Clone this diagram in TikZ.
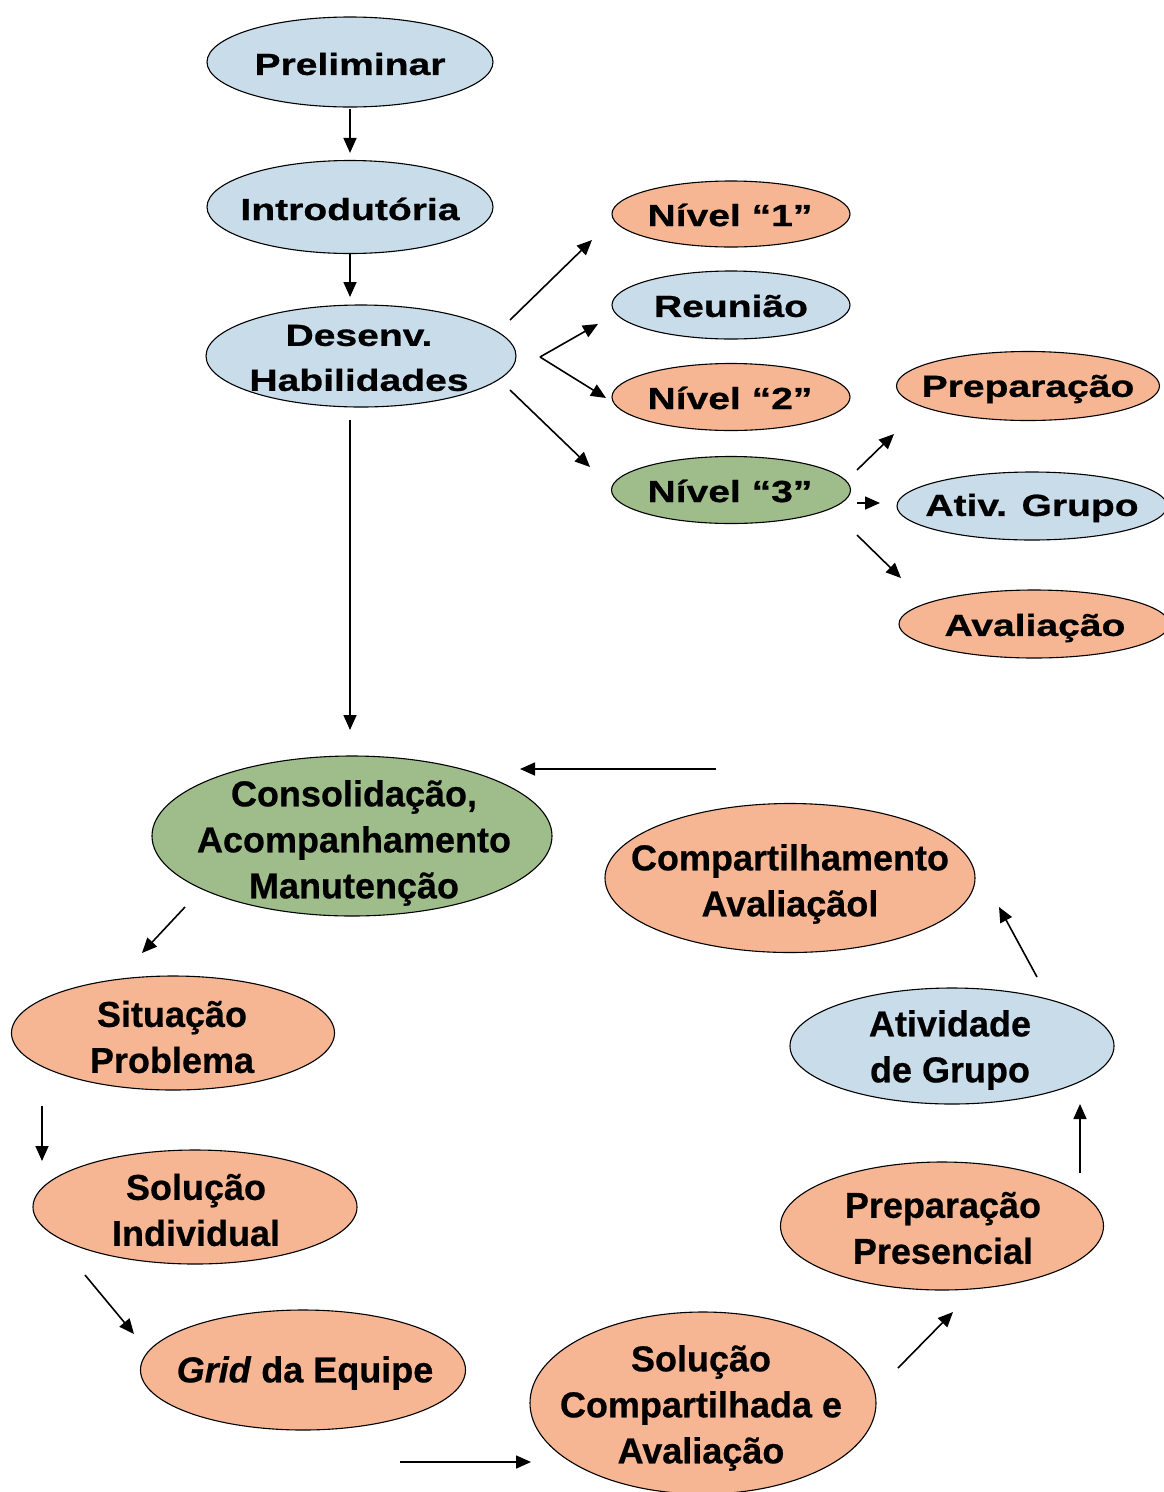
\documentclass[tikz,border=0pt]{standalone}
\usepackage{fontspec}
\setmainfont{Liberation Sans}[FakeBold=0.6]
\newfontfamily\upf{Liberation Sans}[FakeStretch=1.28,FakeBold=0.8]
\usetikzlibrary{shapes.geometric,arrows.meta}
\definecolor{cblue}{RGB}{200,220,234}
\definecolor{corange}{RGB}{246,182,148}
\definecolor{cgreen}{RGB}{158,189,138}
\begin{document}
\begin{tikzpicture}[x=1pt,y=-1pt,
  ell/.style={ellipse, draw=black, line width=1.1pt, inner sep=0pt},
  fb/.style={ell, fill=cblue},
  fo/.style={ell, fill=corange},
  fg/.style={ell, fill=cgreen},
  up/.style={font=\upf\bfseries\fontsize{30.5}{45}\selectfont, align=center, inner sep=0pt},
  lo/.style={font=\bfseries\fontsize{36}{46}\selectfont, align=center, inner sep=0pt},
  arr/.style={-{Triangle[length=15pt,width=13pt]}, line width=1.6pt}
]
\useasboundingbox[fill=white] (0,0) rectangle (1164,1492);

% ---------- upper part ----------
\node[fb, minimum width=286pt, minimum height=90pt] (prel) at (350,62) {};
\node[up] (prelt) at (350,64) {Preliminar};
\node[fb, minimum width=286pt, minimum height=93pt] (intro) at (350,207) {};
\node[up] (introt) at (350,209) {Introdutória};
\node[fb, minimum width=310pt, minimum height=102pt] (des) at (361,356) {};
\node[up] (dest) at (359,358) {Desenv.\\Habilidades};

\node[fo, minimum width=238pt, minimum height=66pt] (n1) at (731,214) {};
\node[up] (n1t) at (730,215) {Nível “1”};
\node[fb, minimum width=238pt, minimum height=68pt] (reu) at (731,305) {};
\node[up] (reut) at (731,306) {Reunião};
\node[fo, minimum width=238pt, minimum height=67pt] (n2) at (731,397) {};
\node[up] (n2t) at (730,398) {Nível “2”};
\node[fg, minimum width=239pt, minimum height=67pt] (n3) at (731,490) {};
\node[up] (n3t) at (730,491) {Nível “3”};

\node[fo, minimum width=263pt, minimum height=69pt] (prep) at (1028,386) {};
\node[up] (prept) at (1028,389) {Preparação};
\node[fb, minimum width=270pt, minimum height=68pt] (ativ) at (1032,506) {};
\node[up] (ativt) at (1032,508) {Ativ. Grupo};
\node[fo, minimum width=270pt, minimum height=68pt] (aval) at (1034,624) {};
\node[up] (avalt) at (1035,628) {Avaliação};

% ---------- lower cycle ----------
\node[fg, minimum width=400pt, minimum height=160pt] (cons) at (352,836) {};
\node[lo] (const) at (354,843) {Consolidação,\\Acompanhamento\\Manutenção};
\node[fo, minimum width=370pt, minimum height=149pt] (comp) at (790,878) {};
\node[lo] (compt) at (790,884) {Compartilhamento\\Avaliaçãol};
\node[fo, minimum width=323pt, minimum height=114pt] (sit) at (173,1033) {};
\node[lo] (sitt) at (172,1037) {Situação\\Problema};
\node[fb, minimum width=324pt, minimum height=116pt] (grp) at (952,1046) {};
\node[lo] (grpt) at (950,1050) {Atividade\\de Grupo};
\node[fo, minimum width=324pt, minimum height=114pt] (ind) at (195,1207) {};
\node[lo] (indt) at (196,1210) {Solução\\Individual};
\node[fo, minimum width=323pt, minimum height=128pt] (pres) at (942,1226) {};
\node[lo] (prest) at (943,1228) {Preparação\\Presencial};
\node[fo, minimum width=325pt, minimum height=120pt] (grid) at (303,1370) {};
\node[lo] (gridt) at (305,1373) {\textit{Grid} da Equipe};
\node[fo, minimum width=346pt, minimum height=182pt] (scomp) at (703,1403) {};
\node[lo] (scompt) at (701,1408) {Solução\\Compartilhada e\\Avaliação};

% ---------- connector end points ----------
\coordinate (a2s) at (350,254);  \coordinate (a2e) at (350,297);
\coordinate (a3s) at (510,320);  \coordinate (a3e) at (592,240);
\coordinate (fork) at (540,357);
\coordinate (a4e) at (598,324);  \coordinate (a5e) at (606,398);
\coordinate (a6s) at (510,390);  \coordinate (a6e) at (590,467);
\coordinate (a7s) at (350,420);  \coordinate (a7e) at (350,730);
\coordinate (a8s) at (857,470);  \coordinate (a8e) at (894,434);
\coordinate (a9s) at (857,503);  \coordinate (a9e) at (880,503);
\coordinate (a10s) at (857,535); \coordinate (a10e) at (901,578);
\coordinate (b1s) at (716,769);  \coordinate (b1e) at (520,769);
\coordinate (b2s) at (185,907);  \coordinate (b2e) at (142,953);
\coordinate (b3s) at (42,1106);  \coordinate (b3e) at (42,1161);
\coordinate (b4s) at (85,1275);  \coordinate (b4e) at (134,1334);
\coordinate (b5s) at (400,1462); \coordinate (b5e) at (531,1462);
\coordinate (b6s) at (898,1368); \coordinate (b6e) at (953,1312);
\coordinate (b7s) at (1080,1173);\coordinate (b7e) at (1080,1104);
\coordinate (b8s) at (1037,977); \coordinate (b8e) at (999,907);

% ---------- connectors ----------
\draw[arr, shorten <=1pt, shorten >=7pt] (prel.south) -- (intro.north);
\draw[arr] (a2s) -- (a2e);
\draw[arr] (a3s) -- (a3e);
\draw[arr] (fork) -- (a4e);
\draw[arr] (fork) -- (a5e);
\draw[arr] (a6s) -- (a6e);
\draw[arr] (a7s) -- (a7e);
\draw[arr] (a8s) -- (a8e);
\draw[arr] (a9s) -- (a9e);
\draw[arr] (a10s) -- (a10e);
\draw[arr] (b1s) -- (b1e);
\draw[arr] (b2s) -- (b2e);
\draw[arr] (b3s) -- (b3e);
\draw[arr] (b4s) -- (b4e);
\draw[arr] (b5s) -- (b5e);
\draw[arr] (b6s) -- (b6e);
\draw[arr] (b7s) -- (b7e);
\draw[arr] (b8s) -- (b8e);
\end{tikzpicture}
\end{document}
